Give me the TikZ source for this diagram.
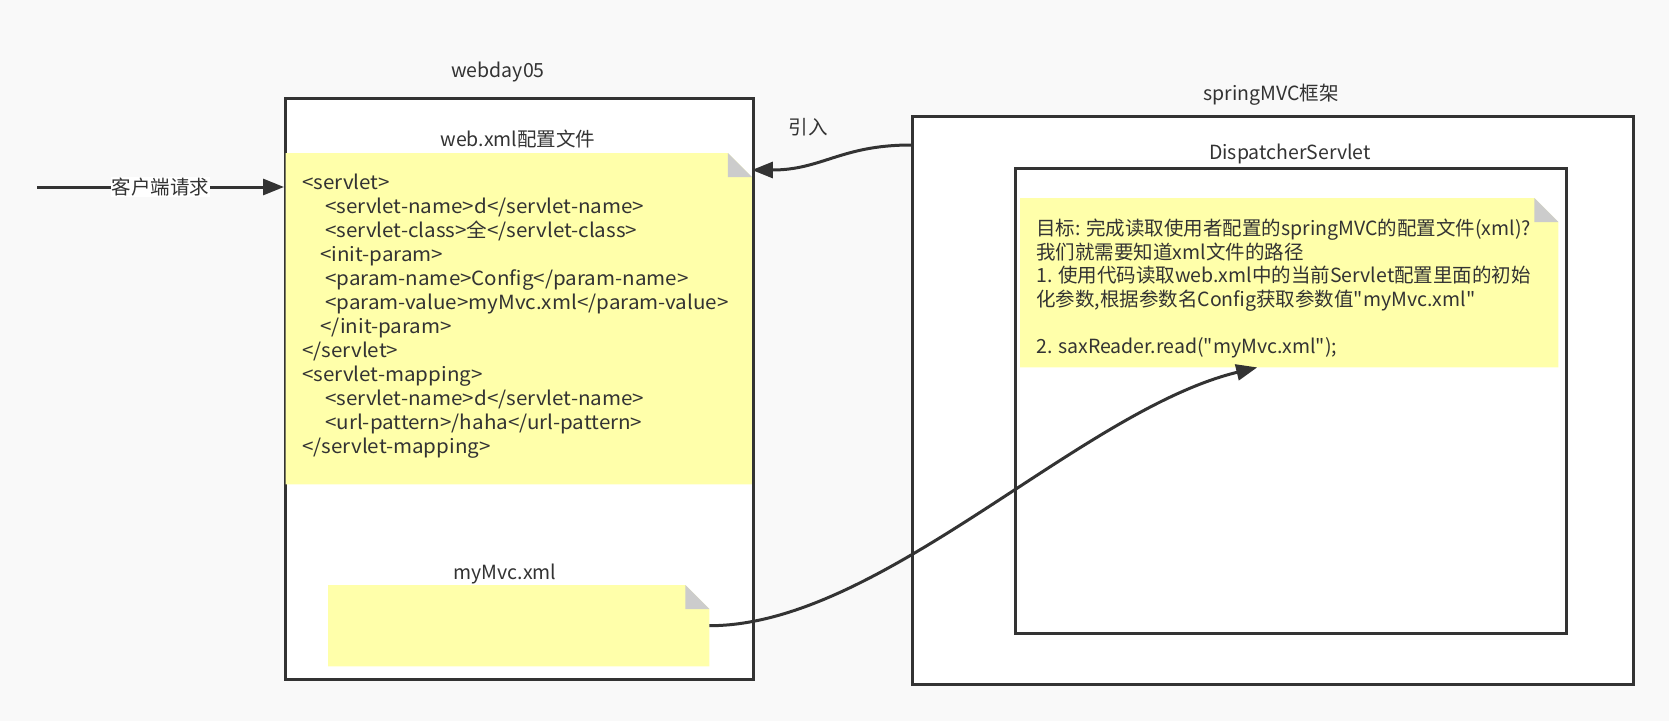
\documentclass[tikz,border=0pt]{standalone}
\usepackage{fontspec}
% plain families (no TeX ligature mapping, so " stays a straight quote)
\newfontfamily\basefont{Noto Sans CJK SC}
\newfontfamily\codefont{Noto Sans CJK SC}[FakeStretch=1.055]
\usetikzlibrary{arrows.meta,calc}

\definecolor{ink}{HTML}{333333}
\definecolor{pagebg}{HTML}{F9F9F9}
\definecolor{notefill}{HTML}{FFFFAA}
\definecolor{foldgray}{HTML}{CCCCCC}

\tikzset{
  frame/.style={rectangle, draw=ink, line width=3pt, fill=white, inner sep=0pt, anchor=north west},
  notearea/.style={rectangle, inner sep=0pt, anchor=north west},
  caption/.style={text=ink, font=\basefont\fontsize{19.5}{23.5}\selectfont, inner sep=0pt, anchor=base},
  noteline/.style={caption, anchor=base west},
  codeline/.style={noteline, font=\codefont\fontsize{19.5}{23.5}\selectfont},
  edgelabel/.style={text=ink, font=\basefont\fontsize{19.5}{23.5}\selectfont, fill=white, inner sep=1pt},
  conn/.style={draw=ink, line width=3pt, -{Triangle[length=21pt,width=16pt]}},
}

% sticky note: yellow sheet with a folded top-right corner
\newcommand{\paintnote}[1]{%
  \fill[notefill] (#1.north west) -- ($(#1.north east)+(-24,0)$)
    -- ($(#1.north east)+(0,24)$) -- (#1.south east) -- (#1.south west) -- cycle;
  \fill[foldgray] ($(#1.north east)+(-24,0)$) -- ($(#1.north east)+(-24,24)$)
    -- ($(#1.north east)+(0,24)$) -- cycle;
}

\begin{document}
\begin{tikzpicture}[x=1pt,y=-1pt]
  \path[use as bounding box, fill=pagebg] (0,0) rectangle (1669,721);

  % containers
  \node[frame, minimum width=468pt, minimum height=581pt] (webday) at (284,97) {};
  \node[frame, minimum width=721pt, minimum height=568pt] (spring) at (911,115) {};
  \node[frame, minimum width=551pt, minimum height=465pt] (dispatcher) at (1014,167) {};

  % container titles
  \node[caption] (webdaytitle) at (498,77.5) {webday05};
  \node[caption] (springtitle) at (1271,100) {springMVC框架};
  \node[caption] (dispatchertitle) at (1290,159) {DispatcherServlet};
  \node[caption] (xmltitle) at (518,146.5) {web.xml配置文件};
  \node[caption] (mvctitle) at (505,579) {myMvc.xml};

  % notes
  \node[notearea, minimum width=466pt, minimum height=331pt] (xmlnote) at (285.5,153) {};
  \node[notearea, minimum width=381pt, minimum height=81pt] (mvcnote) at (328,585) {};
  \node[notearea, minimum width=538pt, minimum height=169pt] (goalnote) at (1020,198) {};
  \paintnote{xmlnote}
  \paintnote{mvcnote}
  \paintnote{goalnote}

  % web.xml contents
  \node[codeline] (x1)  at (302,189.5) {<servlet>};
  \node[codeline] (x2)  at (325,213.5) {<servlet-name>d</servlet-name>};
  \node[codeline] (x3)  at (325,237.5) {<servlet-class>全</servlet-class>};
  \node[codeline] (x4)  at (320,261.5) {<init-param>};
  \node[codeline] (x5)  at (325,285.5) {<param-name>Config</param-name>};
  \node[codeline] (x6)  at (325,309.5) {<param-value>myMvc.xml</param-value>};
  \node[codeline] (x7)  at (320,333.5) {</init-param>};
  \node[codeline] (x8)  at (302,357.5) {</servlet>};
  \node[codeline] (x9)  at (302,381.5) {<servlet-mapping>};
  \node[codeline] (x10) at (325,405.5) {<servlet-name>d</servlet-name>};
  \node[codeline] (x11) at (325,429.5) {<url-pattern>/haha</url-pattern>};
  \node[codeline] (x12) at (302,453.5) {</servlet-mapping>};

  % goal note contents
  \node[noteline] (g1) at (1036,235.5) {目标: 完成读取使用者配置的springMVC的配置文件(xml)?};
  \node[noteline] (g2) at (1036,259.1) {我们就需要知道xml文件的路径};
  \node[noteline] (g3) at (1036,282.7) {1. 使用代码读取web.xml中的当前Servlet配置里面的初始};
  \node[noteline] (g4) at (1036,306.3) {化参数,根据参数名Config获取参数值"myMvc.xml"};
  \node[noteline] (g6) at (1036,353.5) {2. saxReader.read("myMvc.xml");};

  % connectors
  \coordinate (client) at (37,187);
  \draw[conn] (client) -- (client -| webday.west)
    node[edgelabel, midway] (clientlabel) {客户端请求};

  \coordinate (importstart) at ($(spring.north west)+(0,30)$);
  \coordinate (importend) at ($(xmlnote.north east)+(0,17)$);
  \draw[conn] (importstart) .. controls +(-70,0) and +(70,0) .. (importend);
  \node[caption] (importlabel) at (808,134) {引入};

  \coordinate (readend) at ($(goalnote.south)+(-32,0)$);
  \draw[conn] (mvcnote.east) .. controls +(171,0) and +(-177,43) .. (readend);
\end{tikzpicture}
\end{document}
